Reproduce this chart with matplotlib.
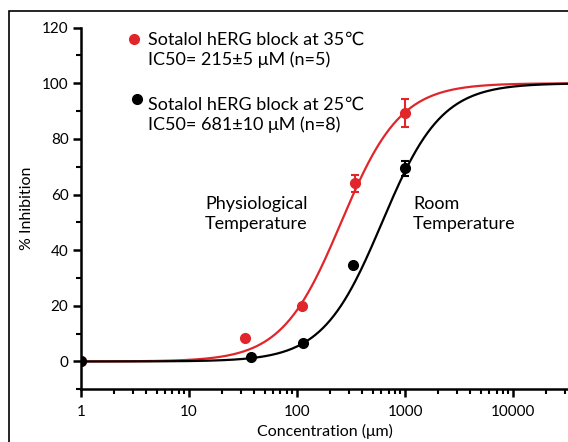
import numpy as np
import matplotlib.pyplot as plt
from matplotlib.patches import Rectangle
from matplotlib.ticker import MultipleLocator, LogLocator, NullFormatter

plt.rcParams['font.family'] = ['Lato', 'DejaVu Sans']

# measured points
conc_35 = [1, 33, 110, 340, 1000]
inh_35 = [0, 8.6, 19.9, 64, 89.2]
err_35 = [0, 0, 0, 3.2, 5]

conc_25 = [1, 37, 112, 327, 1000]
inh_25 = [0, 1.7, 6.5, 34.6, 69.4]
err_25 = [0, 0, 0, 0, 2.7]

# drawn fit curves
ic50_35, hill_35 = 255, 1.58
ic50_25, hill_25 = 610, 1.58

red = '#e0262b'

fig = plt.figure(figsize=(5.68, 4.42), dpi=100)
ax = fig.add_axes([81 / 568, 1 - 389.3 / 442, 1 - 81 / 568, (389.3 - 27.6) / 442])

x = np.logspace(0, np.log10(32000), 400)
ax.plot(x, 100 * (x / ic50_35) ** hill_35 / (1 + (x / ic50_35) ** hill_35), color=red, lw=1.6, zorder=2)
ax.plot(x, 100 * (x / ic50_25) ** hill_25 / (1 + (x / ic50_25) ** hill_25), color='black', lw=1.6, zorder=3)

ax.errorbar(conc_35, inh_35, yerr=err_35, fmt='o', color=red, ms=7, capsize=3, elinewidth=1.5, capthick=1.5, zorder=4)
ax.errorbar(conc_25, inh_25, yerr=err_25, fmt='o', color='black', ms=7, capsize=3, elinewidth=1.5, capthick=1.5, zorder=5)

ax.set_xscale('log')
ax.set_xlim(1, 32000)
ax.set_ylim(-10, 120)
ax.yaxis.set_minor_locator(MultipleLocator(10))
ax.set_yticks([0, 20, 40, 60, 80, 100, 120])
ax.set_xticks([1, 10, 100, 1000, 10000])
ax.set_xticklabels(['1', '10', '100', '1000', '10000'])
ax.xaxis.set_minor_locator(LogLocator(base=10, subs=np.arange(2, 10)))
ax.xaxis.set_minor_formatter(NullFormatter())

for s in ['top', 'right']:
    ax.spines[s].set_visible(False)
for s in ['left', 'bottom']:
    ax.spines[s].set_linewidth(1.8)
ax.tick_params(which='major', length=6, width=1.8, labelsize=11, pad=3)
ax.tick_params(axis='x', which='major', pad=5)
ax.tick_params(which='minor', length=3.5, width=1.5)

ax.set_xlabel('Concentration (μm)', fontsize=11.5, labelpad=4)
ax.set_ylabel('% Inhibition', fontsize=11.5, labelpad=6)

# legend-like labels
ax.plot([3.1], [115.8], 'o', color=red, ms=7, clip_on=False)
ax.plot([3.3], [94.4], 'o', color='black', ms=7, clip_on=False)
ax.text(4.15, 112, 'Sotalol hERG block at 35℃\nIC50= 215±5 μM (n=5)', fontsize=13,
        va='center', ha='left', linespacing=1.25)
ax.text(4.15, 88.6, 'Sotalol hERG block at 25℃\nIC50= 681±10 μM (n=8)', fontsize=13,
        va='center', ha='left', linespacing=1.25)

ax.text(125, 53, 'Physiological\nTemperature', fontsize=13, ha='right', va='center', linespacing=1.25)
ax.text(1180, 53, 'Room\nTemperature', fontsize=13, ha='left', va='center', linespacing=1.25)

fig.patches.append(Rectangle((9 / 568, -0.05), 1.2, 1 - 10.7 / 442 + 0.05, transform=fig.transFigure,
                             fill=False, edgecolor='black', lw=1.2))

fig.savefig('out.png', dpi=100)
